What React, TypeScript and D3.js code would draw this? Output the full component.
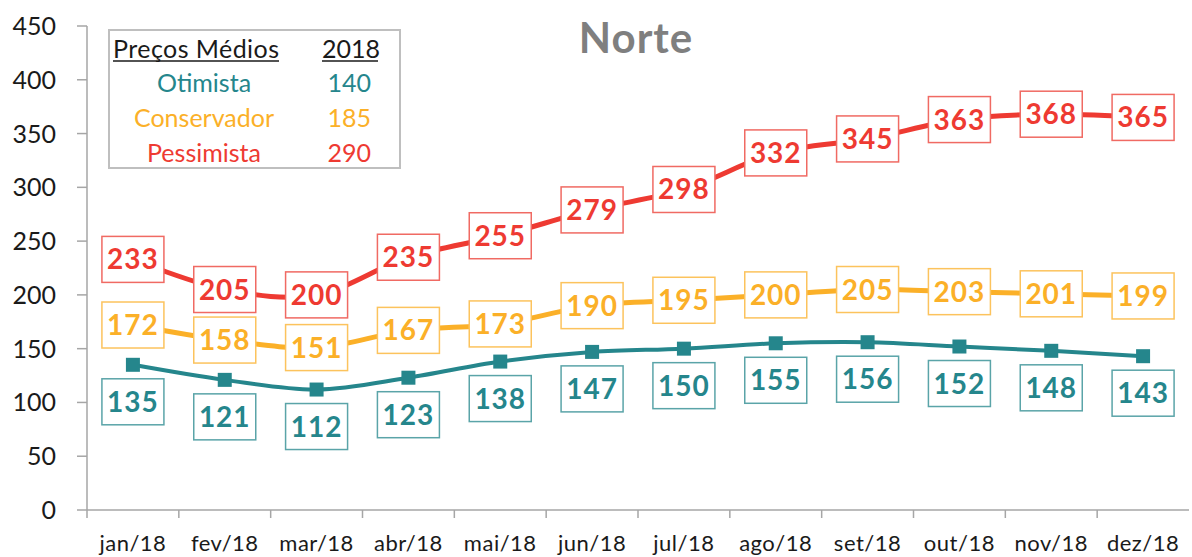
import React from "react";
import * as d3 from "d3";

const months = ["jan/18","fev/18","mar/18","abr/18","mai/18","jun/18","jul/18","ago/18","set/18","out/18","nov/18","dez/18"];
const otimista = [135,121,112,123,138,147,150,155,156,152,148,143];
const conservador = [172,158,151,167,173,190,195,200,205,203,201,199];
const pessimista = [233,205,200,235,255,279,298,332,345,363,368,365];
const yTicks = [0,50,100,150,200,250,300,350,400,450];
const legendRows = [
  { name: "Otimista", value: "140", key: "ot" },
  { name: "Conservador", value: "185", key: "co" },
  { name: "Pessimista", value: "290", key: "pe" },
];

const COLORS: Record<string, { line: string; border: string }> = {
  ot: { line: "#25868c", border: "#5aa4a8" },
  co: { line: "#fbb028", border: "#fcc35d" },
  pe: { line: "#ee3a32", border: "#f06a63" },
};

const FONT = "Lato, 'Open Sans', sans-serif";

export default function App() {
  const W = 1192, H = 557;
  const x = d3.scaleBand<string>().domain(months).range([87, 1189]);
  const y = d3.scaleLinear().domain([0, 450]).range([510, 26]);
  const cx = (m: string) => (x(m) as number) + x.bandwidth() / 2;
  const line = d3.line<number>()
    .x((_, i) => cx(months[i]))
    .y((d) => y(d))
    .curve(d3.curveCatmullRom.alpha(0));

  const series = [
    { key: "pe", data: pessimista, width: 5, offset: 0 },
    { key: "co", data: conservador, width: 5, offset: 0 },
    { key: "ot", data: otimista, width: 4, offset: 37 },
  ];
  const bw = 62, bh = 46;

  return (
    <svg width={W} height={H} style={{ position: "absolute", left: 0, top: 0, background: "#fff" }} fontFamily={FONT}>
      {/* title */}
      <text x={636} y={53} textAnchor="middle" fontSize={42} fontWeight="bold" letterSpacing={1} fill="#7f7f7f">Norte</text>

      {/* y axis */}
      <line x1={87} x2={87} y1={y(450)} y2={y(0)} stroke="#a6a6a6" strokeWidth={1.5} />
      {yTicks.map((t) => (
        <g key={t}>
          <line x1={77} x2={87} y1={y(t)} y2={y(t)} stroke="#a6a6a6" strokeWidth={1.5} />
          <text x={56} y={y(t) + 9} textAnchor="end" fontSize={25} fill="#1a1a1a">{t}</text>
        </g>
      ))}
      {/* x axis */}
      <line x1={87} x2={1189} y1={y(0)} y2={y(0)} stroke="#a6a6a6" strokeWidth={1.5} />
      {months.map((m) => (
        <g key={m}>
          <line x1={(x(m) as number)} x2={(x(m) as number)} y1={y(0)} y2={y(0) + 8} stroke="#a6a6a6" strokeWidth={1.5} />
          <text x={cx(m)} y={551} textAnchor="middle" fontSize={22} letterSpacing={0.5} fill="#1a1a1a">{m}</text>
        </g>
      ))}

      {/* lines */}
      {series.map((s) => (
        <path key={s.key} d={line(s.data) || ""} fill="none" stroke={COLORS[s.key].line} strokeWidth={s.width} strokeLinejoin="round" />
      ))}
      {/* teal markers */}
      {otimista.map((v, i) => (
        <rect key={i} x={cx(months[i]) - 7} y={y(v) - 7} width={14} height={14} fill={COLORS.ot.line} />
      ))}
      {/* labels */}
      {series.map((s) =>
        s.data.map((v, i) => {
          const px = cx(months[i]);
          const py = y(v) + s.offset;
          return (
            <g key={s.key + i}>
              <rect x={px - bw / 2} y={py - bh / 2} width={bw} height={bh} fill="#fff" stroke={COLORS[s.key].border} strokeWidth={1.5} />
              <text x={px} y={py + 10} textAnchor="middle" fontSize={28} fontWeight="bold" letterSpacing={1} fill={COLORS[s.key].line}>{v}</text>
            </g>
          );
        })
      )}

      {/* legend */}
      <rect x={109} y={30} width={291} height={138} fill="#fff" stroke="#bfbfbf" strokeWidth={2} />
      <text x={113} y={58} fontSize={25} fill="#1a1a1a" textLength={166}>Preços Médios</text>
      <line x1={113} x2={279} y1={61} y2={61} stroke="#1a1a1a" strokeWidth={1.5} />
      <text x={322} y={58} fontSize={25} fill="#1a1a1a">2018</text>
      <line x1={322} x2={378} y1={61} y2={61} stroke="#1a1a1a" strokeWidth={1.5} />
      {legendRows.map((r, i) => (
        <g key={r.key}>
          <text x={204} y={92 + i * 35} textAnchor="middle" fontSize={25} fill={COLORS[r.key].line}>{r.name}</text>
          <text x={371} y={92 + i * 35} textAnchor="end" fontSize={25} fill={COLORS[r.key].line}>{r.value}</text>
        </g>
      ))}
    </svg>
  );
}
